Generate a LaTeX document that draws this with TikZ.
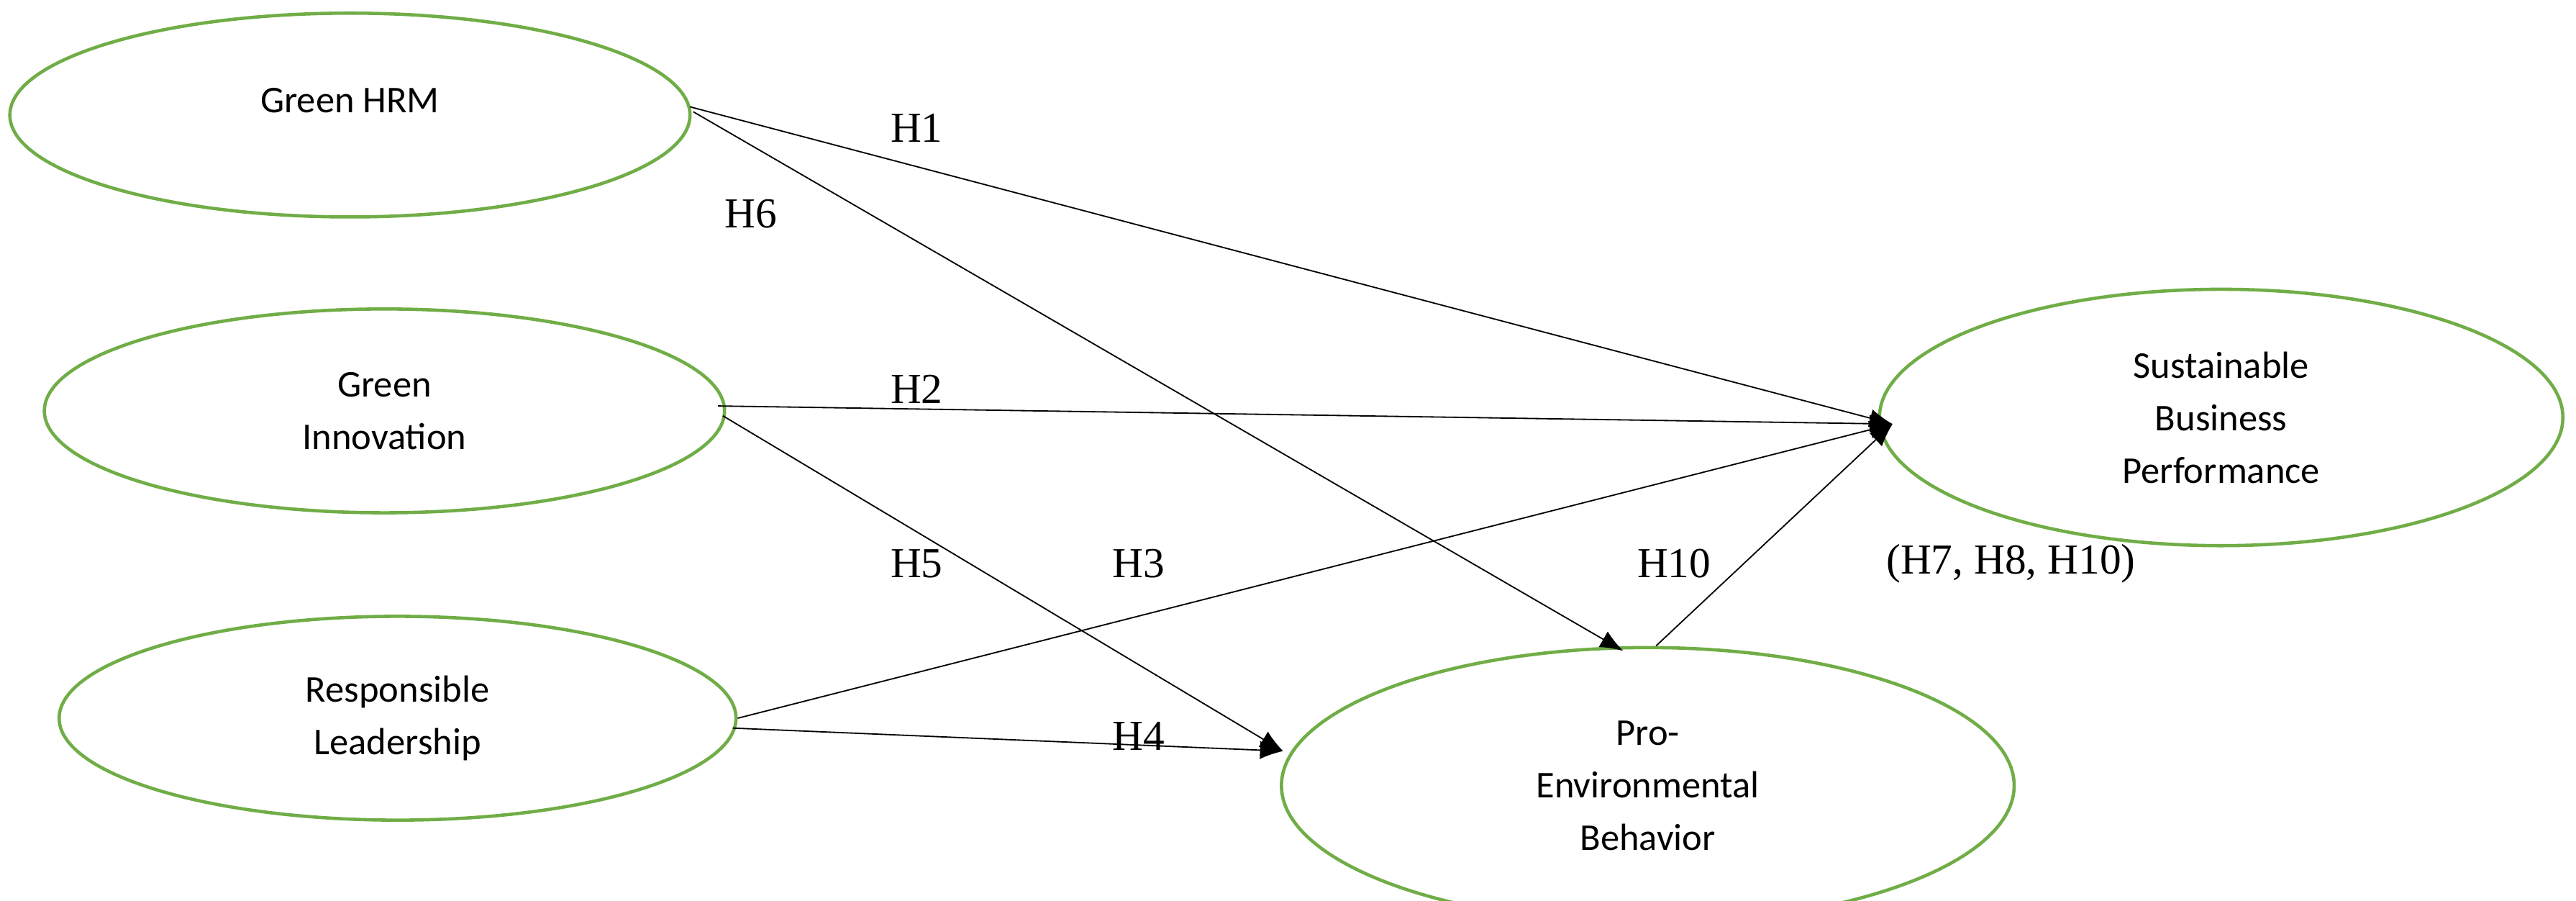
\documentclass[tikz,border=0pt]{standalone}
\usepackage{fontspec}
\setmainfont{Liberation Serif}
\newfontfamily\sansf{Carlito}
\usetikzlibrary{shapes.geometric,arrows.meta}
\definecolor{grn}{RGB}{112,173,71}
\tikzset{
 latent/.style={ellipse,draw=grn,line width=2pt,inner sep=0pt,font=\sansf\fontsize{23}{32}\selectfont,align=center},
 link/.style={-{Latex[length=14pt,width=11pt]},line width=0.8pt},
 lab/.style={font=\fontsize{26}{30}\selectfont}
}
\begin{document}
\begin{tikzpicture}[x=1pt,y=-1pt]
\useasboundingbox (0,0) rectangle (1568,548);
\node[latent,minimum width=414pt,minimum height=124pt] (ghrm) at (213,70) {};
\node[font=\sansf\fontsize{23}{32}\selectfont] (ghrmt) at (213,61) {Green HRM};
\node[latent,minimum width=414pt,minimum height=124pt] (gi) at (234,250) {Green\\Innovation};
\node[latent,minimum width=412pt,minimum height=124pt] (rl) at (242,437) {Responsible\\Leadership};
\node[latent,minimum width=416pt,minimum height=156pt] (sbp) at (1352,254) {Sustainable\\Business\\Performance};
\node[latent,minimum width=446pt,minimum height=168pt] (peb) at (1003,478) {Pro-\\Environmental\\Behavior};
\coordinate (a1) at (420,65);
\coordinate (a1b) at (422,68);
\coordinate (a2) at (437,247);
\coordinate (a3) at (440,253);
\coordinate (a4) at (449,437);
\coordinate (a5) at (446,443);
\coordinate (s) at (1152,258);
\coordinate (p1) at (988,396);
\coordinate (p2) at (781,457);
\coordinate (p3) at (1008,393);
\draw[link] (a1) -- (s);
\draw[link] (a1b) -- (p1);
\draw[link] (a2) -- (s);
\draw[link] (a3) -- (p2);
\draw[link] (a4) -- (s);
\draw[link] (a5) -- (p2);
\draw[link] (p3) -- (s);
\node[lab] (h1) at (558,78) {H1};
\node[lab] (h6) at (457,130) {H6};
\node[lab] (h2) at (558,237) {H2};
\node[lab] (h5) at (558,343) {H5};
\node[lab] (h3) at (693,343) {H3};
\node[lab] (h10) at (1019,343) {H10};
\node[lab] (h7) at (1224,343) {(H7, H8, H10)};
\node[lab] (h4) at (693,448) {H4};
\end{tikzpicture}
\end{document}
